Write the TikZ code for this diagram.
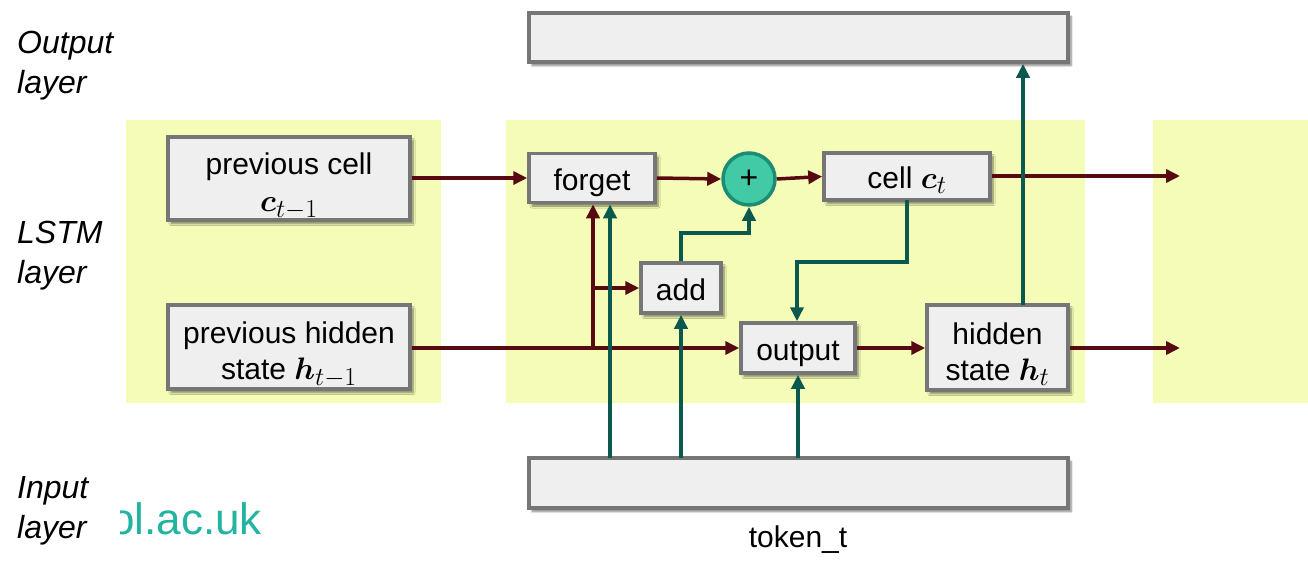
\documentclass[tikz,border=0pt]{standalone}
\usepackage{fontspec}
\setmainfont{Liberation Sans}
\usepackage{bm}
\usetikzlibrary{arrows.meta,shadows.blur}
\definecolor{yel}{RGB}{245,252,183}
\definecolor{boxfill}{RGB}{239,239,239}
\definecolor{boxline}{RGB}{118,118,118}
\definecolor{redline}{RGB}{88,10,18}
\definecolor{tealline}{RGB}{10,88,78}
\definecolor{plusfill}{RGB}{66,202,166}
\definecolor{plusline}{RGB}{28,140,116}
\definecolor{logo}{RGB}{34,180,160}
\newcommand{\lgmath}[1]{\scalebox{1.25}{$#1$}}
\newcommand{\topstrut}{\rule{0pt}{37pt}}
\tikzset{
  gbox/.style={draw=boxline, fill=boxfill, line width=3.5pt, inner sep=0pt, align=center,
    font=\fontsize{30}{36.5}\selectfont,
    blur shadow={shadow xshift=3pt, shadow yshift=-3.5pt, shadow blur steps=6, shadow opacity=50}},
  oneline/.style={text height=28pt, text depth=4pt},
  redarr/.style={draw=redline, line width=3.5pt, -{Triangle[length=14pt,width=13pt]}},
  tealarr/.style={draw=tealline, line width=3.5pt, -{Triangle[length=14pt,width=13pt]}},
  layerlabel/.style={anchor=north west, align=left, inner sep=0pt, font=\fontsize{32}{40}\selectfont\itshape},
}
\begin{document}
\begin{tikzpicture}[x=1pt,y=-1pt]
\useasboundingbox (0,0) rectangle (1308,570);
% yellow backgrounds
\fill[yel] (126,120) rectangle (441,403);
\fill[yel] (506,120) rectangle (1085,403);
\fill[yel] (1153,120) rectangle (1308,403);

% layer labels
\node[layerlabel] (lo) at (17,31) {Output\\layer};
\node[layerlabel] (ll) at (17,221) {LSTM\\layer};
\node[layerlabel] (li) at (17,476) {Input\\layer};

% logo fragment
\begin{scope}
\clip (120,490) rectangle (320,560);
\node[anchor=base west, inner sep=0pt, text=logo, font=\fontsize{44}{44}\selectfont] (logo) at (110,534) {ol.ac.uk};
\end{scope}

% boxes
\node[gbox, minimum width=539, minimum height=49] (ob) at (798.5,37.5) {};
\node[gbox, minimum width=539, minimum height=50] (ib) at (798.5,483) {};
\node[anchor=base, inner sep=0pt, font=\fontsize{30}{36}\selectfont] (tok) at (798,547) {token\_t};

\node[gbox, minimum width=242, minimum height=83] (pc) at (289,178.5) {\topstrut previous cell\\\lgmath{\bm{c}_{t-1}}};
\node[gbox, minimum width=242, minimum height=84] (ph) at (289,347) {\topstrut previous hidden\\state \lgmath{\bm{h}_{t-1}}};
\node[gbox, oneline, minimum width=126, minimum height=49] (fg) at (592,178) {forget};
\node[circle, draw=plusline, fill=plusfill, line width=3.5pt, minimum size=52pt, inner sep=0pt,
      font=\fontsize{32}{32}\selectfont] (pl) at (749,179) {+};
\node[gbox, oneline, minimum width=166, minimum height=47] (ce) at (907,176.5) {cell \lgmath{\bm{c}_{t}}};
\node[gbox, oneline, minimum width=80, minimum height=50] (ad) at (681,288) {add};
\node[gbox, oneline, minimum width=114, minimum height=50] (ou) at (798,348) {output};
\node[gbox, minimum width=141, minimum height=85] (hs) at (997.5,347.5) {\rule{0pt}{35pt}hidden\\state \lgmath{\bm{h}_{t}}};

% helper coordinates
\coordinate (br) at (593,348);
\coordinate (i1) at (610,458);
\coordinate (i2) at (681,458);
\coordinate (i3) at (798,458);
\coordinate (a1) at (681,233);
\coordinate (c1) at (907,200);
\coordinate (c2) at (797,262);
\coordinate (h1) at (1023,305);
\coordinate (e1) at (1180,176);
\coordinate (e2) at (1180,348);

% red connectors
\draw[redarr] (pc.east |- fg.west) -- (fg.west);
\draw[redarr] (fg.east) -- (pl.west);
\draw[redarr] (pl.east) -- (ce.west);
\draw[redarr] (ce.east |- e1) -- (e1);
\draw[redarr] (ph.east |- br) -- (br -| ou.west);
\draw[redarr] (br) -- (br |- fg.south);
\draw[redarr] (br |- ad.west) -- (ad.west);
\draw[redarr] (ou.east) -- (ou.east -| hs.west);
\draw[redarr] (hs.east |- e2) -- (e2);

% teal connectors
\draw[tealarr] (i1) -- (i1 |- fg.south);
\draw[tealarr] (i2) -- (ad.south);
\draw[tealarr] (ad.north) -- (a1) -| (pl.south);
\draw[tealarr] (c1) |- (c2) -- (c2 |- ou.north);
\draw[tealarr] (i3) -- (ou.south);
\draw[tealarr] (h1) -- (h1 |- ob.south);
\end{tikzpicture}
\end{document}
